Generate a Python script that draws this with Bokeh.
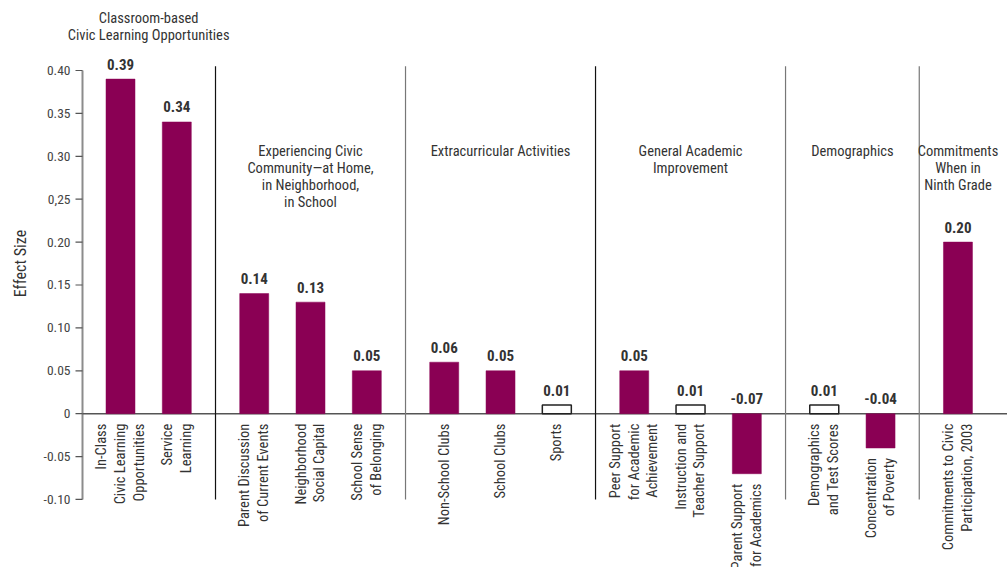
import math
from bokeh.plotting import figure
from bokeh.models import Range1d, ColumnDataSource
from bokeh.core.properties import value
from bokeh.embed import file_html
from bokeh.resources import INLINE

# ---------------- data ----------------
group_titles = [
    "Classroom-based\nCivic Learning Opportunities",
    "Experiencing Civic\nCommunity\u2014at Home,\nin Neighborhood,\nin School",
    "Extracurricular Activities",
    "General Academic\nImprovement",
    "Demographics",
    "Commitments\nWhen in\nNinth Grade",
]
categories = [
    "In-Class\nCivic Learning\nOpportunities",
    "Service\nLearning",
    "Parent Discussion\nof Current Events",
    "Neighborhood\nSocial Capital",
    "School Sense\nof Belonging",
    "Non-School Clubs",
    "School Clubs",
    "Sports",
    "Peer Support\nfor Academic\nAchievement",
    "Instruction and\nTeacher Support",
    "Parent Support\nfor Academics",
    "Demographics\nand Test Scores",
    "Concentration\nof Poverty",
    "Commitments to Civic\nParticipation, 2003",
]
category_group = [0, 0, 1, 1, 1, 2, 2, 2, 3, 3, 3, 4, 4, 5]
effect_size = [0.39, 0.34, 0.14, 0.13, 0.05, 0.06, 0.05, 0.01, 0.05, 0.01, -0.07, 0.01, -0.04, 0.20]
significant = [True, True, True, True, True, True, True, False, True, False, True, False, True, True]
tick_values = [-0.10, -0.05, 0.0, 0.05, 0.10, 0.15, 0.20, 0.25, 0.30, 0.35, 0.40]
tick_labels = ["-0.10", "-0.05", "0", "0.05", "0.10", "0.15", "0.20", "0,25", "0.30", "0.35", "0.40"]
axis_title = "Effect Size"

# ---------------- layout / style ----------------
W, H = 1007, 567
PX = 56.3          # pixels per category step
X0 = 120           # pixel position of first category
AXIS_PX = 82       # pixel position of the value axis
GAP = 0.375        # extra space between groups, in category steps
Y_TOP, Y_BOT = 0.4816, -0.1793
BAR_COLOR = "#8a0054"
TXT = "#333333"
FONT = "Roboto Condensed"
SEP_COLORS = ["#111111", "#777777", "#111111", "#777777", "#777777"]

x_start = -X0 / PX
x_end = (W - X0) / PX
axis_x = (AXIS_PX - X0) / PX
tick_len = 7 / PX

xs = [i + GAP * g for i, g in enumerate(category_group)]
n_groups = len(group_titles)
group_x, group_top, sep_x = [], [], []
for g in range(n_groups):
    members = [xs[i] for i in range(len(xs)) if category_group[i] == g]
    vals = [effect_size[i] for i in range(len(xs)) if category_group[i] == g]
    group_x.append(sum(members) / len(members))
    group_top.append(0.470 if max(vals) > 0.30 else 0.315)
    if g < n_groups - 1:
        nxt = [xs[i] for i in range(len(xs)) if category_group[i] == g + 1]
        sep_x.append((max(members) + min(nxt)) / 2)

bars = ColumnDataSource(dict(
    x=xs,
    top=effect_size,
    fill=[BAR_COLOR if s else "white" for s in significant],
    line=[BAR_COLOR if s else "#222222" for s in significant],
    lw=[0.5 if s else 1.5 for s in significant],
    vlab=["{:.2f}".format(v) for v in effect_size],
    vy=[max(v, 0) for v in effect_size],
    cy=[min(v, 0) for v in effect_size],
    cat=categories,
))

p = figure(
    width=W, height=H,
    x_range=Range1d(x_start, x_end), y_range=Range1d(Y_BOT, Y_TOP),
    output_backend="svg", toolbar_location=None,
    x_axis_location=None, y_axis_location=None,
    min_border_left=0, min_border_right=0, min_border_top=0, min_border_bottom=0,
)
p.outline_line_color = None
p.grid.visible = False
p.background_fill_color = "white"

# value axis drawn through the plot's scales
ymin, ymax = min(tick_values), max(tick_values)
p.segment(x0=[axis_x], y0=[ymin], x1=[axis_x], y1=[ymax], line_color="#8c8c8c", line_width=2)
p.segment(x0=[axis_x - tick_len] * len(tick_values), y0=tick_values,
          x1=[axis_x] * len(tick_values), y1=tick_values, line_color="#555555", line_width=1.2)
p.text(x=[axis_x] * len(tick_values), y=tick_values, text=tick_labels, text_align="right",
       text_baseline="middle", x_offset=-12, text_font=value(FONT), text_font_size="13.5px",
       text_color="#444444")
p.text(x=[axis_x], y=[0.175], text=[axis_title], angle=math.pi / 2, text_align="center",
       text_baseline="middle", x_offset=-62, text_font=value(FONT), text_font_size="16px",
       text_color=TXT)

# zero line
p.segment(x0=[axis_x], y0=[0], x1=[x_end], y1=[0], line_color="#555555", line_width=1.5)

# group separators
p.segment(x0=sep_x, y0=[ymin] * len(sep_x), x1=sep_x, y1=[0.405] * len(sep_x),
          line_color=SEP_COLORS[:len(sep_x)], line_width=1.2)

p.vbar(x="x", top="top", bottom=0, width=29 / PX, fill_color="fill", line_color="line",
       line_width="lw", source=bars)

p.text(x="x", y="vy", text="vlab", source=bars, text_align="center", text_baseline="alphabetic",
       y_offset=-15, text_font=value(FONT), text_font_size="15px", text_font_style="bold",
       text_color=TXT)

p.text(x="x", y="cy", text="cat", source=bars, angle=math.pi / 2, text_align="right",
       text_baseline="middle", y_offset=10, text_font=value(FONT), text_font_size="14.5px",
       text_line_height=1.1, text_color=TXT)

p.text(x=group_x, y=group_top, text=group_titles, text_align="center", text_baseline="top",
       text_font=value(FONT), text_font_size="14.5px", text_line_height=1.0, text_color=TXT)

open("out.html", "w").write(file_html(p, INLINE))
